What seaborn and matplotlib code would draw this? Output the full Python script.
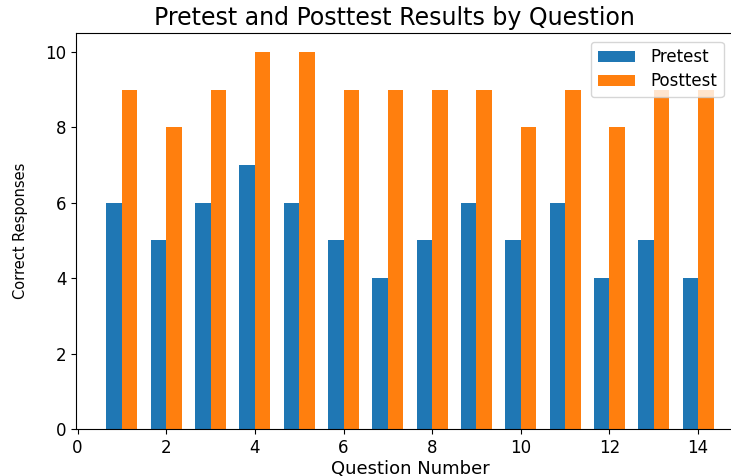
import pandas as pd
import matplotlib
matplotlib.use("Agg")
import matplotlib.pyplot as plt
import seaborn as sns

questions = list(range(1, 15))
pretest = [6, 5, 6, 7, 6, 5, 4, 5, 6, 5, 6, 4, 5, 4]
posttest = [9, 8, 9, 10, 10, 9, 9, 9, 9, 8, 9, 8, 9, 9]

df = pd.DataFrame({
    'Question': questions * 2,
    'Correct': pretest + posttest,
    'Test': ['Pretest'] * len(questions) + ['Posttest'] * len(questions),
})

fig = plt.figure(figsize=(7.31, 4.76), dpi=100)
W, H = 731, 476
# axes runs past the right edge of the picture, like the reference crop
ax = fig.add_axes([76 / W, 47 / H, 668 / W, 396 / H])

sns.barplot(data=df, x='Question', y='Correct', hue='Test', native_scale=True,
            width=0.7, palette=['#1f77b4', '#ff7f0e'], saturation=1,
            errorbar=None, ax=ax)

ax.set_xlim(-0.035, 15.035)
ax.set_ylim(0, 10.5)
ax.set_xticks(range(0, 15, 2))
ax.set_yticks(range(0, 11, 2))
ax.tick_params(labelsize=12)
ax.set_title('Pretest and Posttest Results by Question', fontsize=17, pad=6, x=0.477)
ax.set_xlabel('Question Number', fontsize=13, labelpad=2)
ax.set_ylabel('Correct Responses', fontsize=10.5, labelpad=12)

handles, labels = ax.get_legend_handles_labels()
ax.legend(handles, labels, loc='upper left', bbox_to_anchor=(0.771, 0.978),
          borderaxespad=0, fontsize=12, title=None, labelspacing=0.35,
          handlelength=2.25, handletextpad=0.9)

fig.savefig('out.png', dpi=100)
